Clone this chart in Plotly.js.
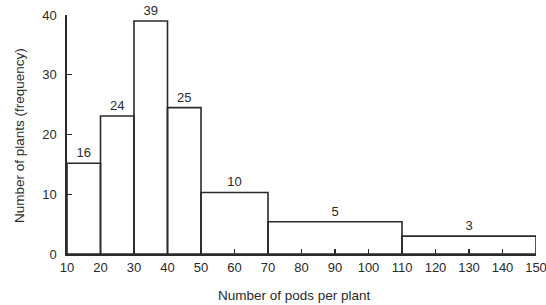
<!DOCTYPE html>
<html><head><meta charset="utf-8">
<script src="https://cdn.plot.ly/plotly-3.0.1.min.js"></script>
<style>html,body{margin:0;padding:0;background:#fff;}#c{width:546px;height:305px;}</style>
</head><body><div id="c"></div>
<script>
var binStart = [10, 20, 30, 40, 50, 70, 110];
var binEnd   = [20, 30, 40, 50, 70, 110, 150];
var counts   = [16, 24, 39, 25, 10, 5, 3];
var drawnHeights = [15.2, 23.1, 39, 24.5, 10.3, 5.4, 3.0];
var xTicks = [10,20,30,40,50,60,70,80,90,100,110,120,130,140,150];
var yTicks = [0,10,20,30,40];
var xTitle = 'Number of pods per plant';
var yTitle = 'Number of plants (frequency)';

var mids = binStart.map(function(s,i){return (s+binEnd[i])/2;});
var widths = binStart.map(function(s,i){return binEnd[i]-s;});

var ink = '#2a2a2a';
var fam = 'Liberation Sans, Arial, sans-serif';
var trace = {
  type:'bar', x:mids, y:drawnHeights, width:widths,
  marker:{color:'rgba(255,255,255,0)', line:{color:ink, width:1.6}},
  text:counts.map(String), textposition:'outside', cliponaxis:false,
  textfont:{family:fam, size:13, color:ink},
  hoverinfo:'none'
};
var layout = {
  width:546, height:305,
  margin:{l:67, r:10, t:15, b:51},
  paper_bgcolor:'#fff', plot_bgcolor:'#fff',
  showlegend:false,
  font:{family:fam, size:13, color:ink},
  xaxis:{range:[10,150], tickvals:xTicks, ticktext:xTicks.map(String),
    ticks:'inside', ticklen:5, tickwidth:1.2, tickcolor:ink,
    showline:true, linecolor:ink, linewidth:1.6, showgrid:false, zeroline:false,
    tickfont:{size:13}, ticklabelstandoff:1, ticklabeloverflow:'allow'},
  yaxis:{range:[0,40], tickvals:yTicks, ticktext:yTicks.map(String),
    ticks:'inside', ticklen:5, tickwidth:1.2, tickcolor:ink,
    showline:true, linecolor:ink, linewidth:1.6, showgrid:false, zeroline:false,
    tickfont:{size:13}, ticklabelstandoff:6, ticklabeloverflow:'allow'},
  annotations:[
    {text:xTitle, xref:'paper', yref:'paper', x:(294-67)/469, y:-(295-254)/239,
     xanchor:'center', yanchor:'middle', showarrow:false, font:{size:13.5, color:ink}},
    {text:yTitle, xref:'paper', yref:'paper', x:-(67-19)/469, y:(254-136)/239,
     xanchor:'center', yanchor:'middle', textangle:-90, showarrow:false, font:{size:13.5, color:ink}}
  ]
};
Plotly.newPlot('c',[trace],layout,{staticPlot:true});
</script></body></html>
